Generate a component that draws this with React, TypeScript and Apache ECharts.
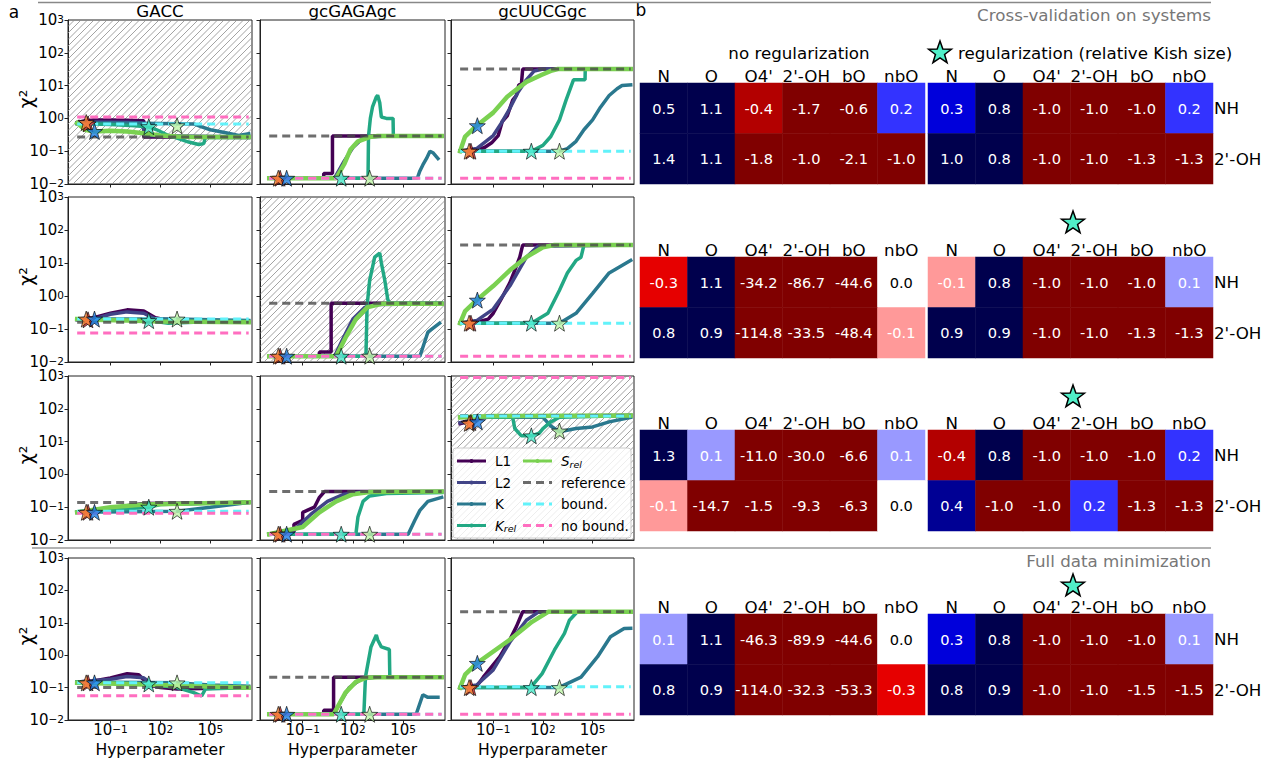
import React, { useEffect, useRef } from 'react';
import * as echarts from 'echarts';

const FONT = 'DejaVu Sans';

// ---------------- heatmap data (panel b) ----------------
const ATOM_COLS = ['N', 'O', "O4'", "2'-OH", 'bO', 'nbO'];
const DONOR_ROWS = ['NH', "2'-OH"];

const CV1_NOREG = [[0.5, 1.1, -0.4, -1.7, -0.6, 0.2], [1.4, 1.1, -1.8, -1.0, -2.1, -1.0]];
const CV1_REG = [[0.3, 0.8, -1.0, -1.0, -1.0, 0.2], [1.0, 0.8, -1.0, -1.0, -1.3, -1.3]];
const CV2_NOREG = [[-0.3, 1.1, -34.2, -86.7, -44.6, 0.0], [0.8, 0.9, -114.8, -33.5, -48.4, -0.1]];
const CV2_REG = [[-0.1, 0.8, -1.0, -1.0, -1.0, 0.1], [0.9, 0.9, -1.0, -1.0, -1.3, -1.3]];
const CV3_NOREG = [[1.3, 0.1, -11.0, -30.0, -6.6, 0.1], [-0.1, -14.7, -1.5, -9.3, -6.3, 0.0]];
const CV3_REG = [[-0.4, 0.8, -1.0, -1.0, -1.0, 0.2], [0.4, -1.0, -1.0, 0.2, -1.3, -1.3]];
const FULL_NOREG = [[0.1, 1.1, -46.3, -89.9, -44.6, 0.0], [0.8, 0.9, -114.0, -32.3, -53.3, -0.3]];
const FULL_REG = [[0.3, 0.8, -1.0, -1.0, -1.0, 0.1], [0.8, 0.9, -1.0, -1.0, -1.5, -1.5]];

// ---------------- line panels (panel a) ----------------
const SYSTEMS = ['GACC', 'gcGAGAgc', 'gcUUCGgc'];
const METHOD_NAMES = ['L1', 'L2', 'K', 'Krel', 'Srel'];
const METHOD_COLORS = ['#440154', '#414487', '#2a788e', '#22a884', '#7ad151'];
const X_TICKS = [-1, 2, 5];
const X_DOMAIN = [1e-3, 2e7];
// stars: red, orange, blue, turquoise, light green
const STAR_HYPER = [4.5e-3, 3.5e-3, 0.011, 20, 1000];
const STAR_COLORS = ['#e3262b', '#fb8a3c', '#1f7fe6', '#48e8c8', '#bff5a8'];

// row 1: cross-validation GACC
const R1C1_L1 = [[1e-3, 0.75], [3e-3, 0.85], [0.01, 0.9], [0.1, 0.9], [1, 0.88], [10, 0.85], [10, 0.27], [100, 0.27], [2e7, 0.26]];
const R1C1_L2 = [[1e-3, 0.7], [0.01, 0.78], [1, 0.76], [8, 0.72], [12, 0.3], [2e7, 0.27]];
const R1C1_K = [[1e-3, 0.7], [0.1, 0.72], [100, 0.7], [1e4, 0.68], [3e4, 0.55], [1e5, 0.45], [1e6, 0.36], [5e6, 0.3], [2e7, 0.34]];
const R1C1_KREL = [[1e-3, 0.7], [0.1, 0.65], [3, 0.6], [20, 0.55], [60, 0.45], [300, 0.3], [1e3, 0.25], [5e3, 0.19], [2e4, 0.16], [4e4, 0.17], [5e4, 0.26], [2e7, 0.26]];
const R1C1_SREL = [[1e-3, 0.72], [3e-3, 0.45], [0.01, 0.4], [0.1, 0.42], [1, 0.4], [10, 0.35], [100, 0.3], [1e3, 0.28], [1e4, 0.27], [2e7, 0.27]];
const R1C1_LEVELS = [0.27, 0.68, 1.1];
const R1C1_STARS = [0.68, 0.75, 0.4, 0.56, 0.6];

const R1C2_L1 = [[1e-3, 0.015], [1.8, 0.015], [1.8, 0.021], [6, 0.021], [6, 0.29], [2e7, 0.29]];
const R1C2_L2 = [[1e-3, 0.015], [8, 0.015], [30, 0.05], [100, 0.13], [300, 0.22], [1e3, 0.27], [1e4, 0.29], [2e7, 0.29]];
const R1C2_K = [[1e-3, 0.015], [7e5, 0.015], [1e6, 0.025], [1.5e6, 0.038], [2.5e6, 0.06], [4e6, 0.1], [6e6, 0.09], [1.2e7, 0.06]];
const R1C2_KREL = [[1e-3, 0.015], [800, 0.015], [850, 0.28], [1.1e3, 1.0], [1.5e3, 2.3], [2.5e3, 4.5], [3e3, 5.1], [4e3, 3.0], [5e3, 1.1], [1e4, 1.0], [2.5e4, 1.0], [2.6e4, 0.29], [2e7, 0.29]];
const R1C2_SREL = [[1e-3, 0.015], [10, 0.015], [30, 0.04], [70, 0.11], [200, 0.2], [1e3, 0.27], [3e3, 0.29], [2e7, 0.29]];
const R1C2_LEVELS = [0.29, 0.015, 0.015];
const R1C2_STARS = [0.015, 0.015, 0.015, 0.015, 0.015];

const R1C3_L1 = [[1e-3, 0.1], [0.01, 0.11], [0.03, 0.13], [0.08, 0.18], [0.2, 0.3], [0.35, 0.8], [0.7, 1.2], [1.5, 3.6], [2.5, 5], [3.5, 10.5], [5, 11], [6, 32], [2e7, 32]];
const R1C3_L2 = [[1e-3, 0.1], [0.01, 0.12], [0.1, 0.3], [0.3, 0.7], [1, 2], [3, 6], [10, 15], [30, 28], [100, 32], [2e7, 32]];
const R1C3_K = [[1e-3, 0.1], [1e3, 0.1], [3e3, 0.12], [1e4, 0.2], [3e4, 0.45], [1e5, 0.9], [3e5, 2.2], [1e6, 5], [3e6, 8], [6e6, 10], [2e7, 10.5]];
const R1C3_KREL = [[1e-3, 0.1], [20, 0.1], [100, 0.15], [300, 0.28], [1e3, 0.9], [2.5e3, 3.6], [7e3, 15], [3.5e4, 15], [3.6e4, 32], [2e7, 32]];
const R1C3_SREL = [[1e-3, 0.1], [2e-3, 0.28], [0.01, 0.6], [0.1, 1.5], [0.7, 4.6], [10, 13], [80, 21], [300, 28], [800, 32], [2e7, 32]];
const R1C3_LEVELS = [32, 0.1, 0.015];
const R1C3_STARS = [0.1, 0.1, 0.6, 0.1, 0.1];

// row 2: cross-validation gcGAGAgc
const R2C1_L1 = [[1e-3, 0.2], [0.01, 0.22], [0.1, 0.3], [1, 0.38], [10, 0.35], [50, 0.22], [300, 0.18], [2e7, 0.17]];
const R2C1_L2 = [[1e-3, 0.19], [0.01, 0.2], [0.1, 0.28], [1, 0.33], [10, 0.3], [50, 0.2], [2e7, 0.17]];
const R2C1_K = [[1e-3, 0.2], [1e3, 0.2], [1e5, 0.19], [2e7, 0.18]];
const R2C1_KREL = [[1e-3, 0.2], [20, 0.18], [300, 0.15], [1e4, 0.16], [2e7, 0.17]];
const R2C1_SREL = [[1e-3, 0.2], [0.01, 0.19], [1, 0.18], [100, 0.17], [2e7, 0.16]];
const R2C1_LEVELS = [0.16, 0.2, 0.075];
const R2C1_STARS = [0.19, 0.2, 0.2, 0.18, 0.2];

const R2C2_L1 = [[1e-3, 0.015], [1, 0.015], [1, 0.02], [5, 0.02], [5, 0.6], [2e7, 0.6]];
const R2C2_L2 = [[1e-3, 0.015], [8, 0.015], [30, 0.06], [100, 0.2], [500, 0.45], [3e3, 0.55], [2e7, 0.58]];
const R2C2_K = [[1e-3, 0.015], [1e6, 0.015], [3e6, 0.08], [1.5e7, 0.15]];
const R2C2_KREL = [[1e-3, 0.015], [600, 0.015], [700, 0.5], [1e3, 3], [2e3, 15], [4e3, 20], [5e3, 10], [8e3, 3], [1.2e4, 0.8], [1.5e4, 0.6], [2e7, 0.6]];
const R2C2_SREL = [[1e-3, 0.015], [10, 0.015], [40, 0.06], [150, 0.2], [700, 0.45], [5e3, 0.58], [2e7, 0.58]];
const R2C2_LEVELS = [0.6, 0.015, 0.015];
const R2C2_STARS = [0.015, 0.015, 0.015, 0.015, 0.015];

const R2C3_L1 = [[1e-3, 0.15], [0.01, 0.16], [0.05, 0.2], [0.1, 0.3], [0.3, 0.8], [1, 2.5], [2, 6], [4, 15], [6, 35], [2e7, 35]];
const R2C3_L2 = [[1e-3, 0.15], [0.01, 0.18], [0.1, 0.4], [1, 2], [10, 15], [50, 32], [2e7, 35]];
const R2C3_K = [[1e-3, 0.15], [1e3, 0.15], [1e4, 0.3], [1e5, 1.2], [1e6, 5], [2e7, 12]];
const R2C3_KREL = [[1e-3, 0.15], [20, 0.15], [200, 0.3], [1e3, 1.5], [3e3, 5], [1e4, 12], [2e4, 15], [3e4, 35], [2e7, 35]];
const R2C3_SREL = [[1e-3, 0.15], [2e-3, 0.35], [0.01, 0.75], [0.1, 2], [1, 6], [10, 15], [100, 30], [500, 35], [2e7, 35]];
const R2C3_LEVELS = [35, 0.15, 0.015];
const R2C3_STARS = [0.15, 0.15, 0.75, 0.15, 0.15];

// row 3: cross-validation gcUUCGgc
const R3C1_L1 = [[1e-3, 0.07], [0.01, 0.075], [0.1, 0.09], [1, 0.11], [10, 0.13], [2e7, 0.14]];
const R3C1_L2 = [[1e-3, 0.07], [0.01, 0.072], [0.1, 0.085], [1, 0.1], [10, 0.12], [2e7, 0.14]];
const R3C1_K = [[1e-3, 0.07], [1e3, 0.075], [1e5, 0.1], [2e7, 0.14]];
const R3C1_KREL = [[1e-3, 0.07], [20, 0.1], [100, 0.12], [2e7, 0.14]];
const R3C1_SREL = [[1e-3, 0.07], [0.1, 0.1], [10, 0.12], [2e7, 0.14]];
const R3C1_LEVELS = [0.14, 0.075, 0.065];
const R3C1_STARS = [0.07, 0.07, 0.07, 0.1, 0.075];

const R3C2_L1 = [[1e-3, 0.015], [0.03, 0.015], [0.03, 0.03], [0.1, 0.04], [0.1, 0.07], [0.5, 0.1], [1, 0.2], [2, 0.3], [2e7, 0.3]];
const R3C2_L2 = [[1e-3, 0.015], [0.03, 0.02], [0.3, 0.06], [3, 0.15], [30, 0.25], [300, 0.29], [2e7, 0.3]];
const R3C2_K = [[1e-3, 0.015], [2e5, 0.015], [5e5, 0.04], [1e6, 0.08], [3e6, 0.15], [2e7, 0.2]];
const R3C2_KREL = [[1e-3, 0.015], [150, 0.015], [200, 0.05], [400, 0.15], [1e3, 0.22], [1e4, 0.26], [2e7, 0.28]];
const R3C2_SREL = [[1e-3, 0.015], [0.1, 0.025], [1, 0.07], [10, 0.15], [100, 0.25], [1e3, 0.29], [2e7, 0.3]];
const R3C2_LEVELS = [0.3, 0.015, 0.015];
const R3C2_STARS = [0.015, 0.015, 0.015, 0.015, 0.015];

const R3C3_L1 = [[1e-3, 35], [3e-3, 40], [0.01, 55], [0.1, 60], [2e7, 62]];
const R3C3_L2 = [[1e-3, 38], [0.01, 50], [0.1, 58], [2e7, 62]];
const R3C3_K = [[1e-3, 55], [100, 55], [300, 30], [1e3, 20], [1e4, 25], [1e5, 28], [1e6, 40], [2e7, 55]];
const R3C3_KREL = [[1e-3, 55], [1.5, 55], [2, 25], [5, 15], [20, 15], [60, 18], [100, 25], [300, 40], [1e3, 55], [2e7, 62]];
const R3C3_SREL = [[1e-3, 55], [0.1, 60], [2e7, 62]];
const R3C3_LEVELS = [62, 60, 900];
const R3C3_STARS = [38, 36, 40, 15, 21];

// row 4: full data minimization
const R4C1_L1 = [[1e-3, 0.15], [0.01, 0.16], [0.1, 0.2], [1, 0.27], [5, 0.25], [20, 0.12], [100, 0.1], [1e3, 0.09], [2e7, 0.1]];
const R4C1_L2 = [[1e-3, 0.15], [0.1, 0.18], [1, 0.22], [10, 0.2], [50, 0.11], [2e7, 0.1]];
const R4C1_K = [[1e-3, 0.15], [1e3, 0.14], [1e4, 0.13], [1e5, 0.12], [2e7, 0.11]];
const R4C1_KREL = [[1e-3, 0.15], [20, 0.13], [1e3, 0.1], [1e4, 0.07], [3e4, 0.055], [5e4, 0.09], [2e7, 0.1]];
const R4C1_SREL = [[1e-3, 0.14], [1, 0.13], [100, 0.12], [2e7, 0.1]];
const R4C1_LEVELS = [0.1, 0.14, 0.056];
const R4C1_STARS = [0.14, 0.14, 0.14, 0.13, 0.14];

const R4C2_L1 = [[1e-3, 0.015], [1.8, 0.015], [1.8, 0.02], [7, 0.02], [7, 0.21], [2e7, 0.21]];
const R4C2_L2 = [[1e-3, 0.015], [7, 0.015], [20, 0.04], [60, 0.1], [300, 0.18], [2e3, 0.21], [2e7, 0.21]];
const R4C2_K = [[1e-3, 0.015], [6e5, 0.015], [1.5e6, 0.06], [3e6, 0.05], [1.2e7, 0.05]];
const R4C2_KREL = [[1e-3, 0.015], [450, 0.015], [560, 0.21], [1.2e3, 1.8], [2.5e3, 4.2], [3e3, 3], [5e3, 1.8], [1.5e4, 1.5], [1.6e4, 0.21], [2e7, 0.21]];
const R4C2_SREL = [[1e-3, 0.015], [7, 0.015], [36, 0.07], [150, 0.15], [560, 0.2], [3e3, 0.21], [2e7, 0.21]];
const R4C2_LEVELS = [0.21, 0.015, 0.015];
const R4C2_STARS = [0.015, 0.015, 0.015, 0.015, 0.015];

const R4C3_L1 = [[1e-3, 0.1], [0.01, 0.11], [0.025, 0.21], [0.25, 0.9], [1, 3], [2.5, 7.6], [6, 22], [2e7, 22]];
const R4C3_L2 = [[1e-3, 0.1], [0.01, 0.12], [0.1, 0.35], [1, 2.5], [10, 12], [50, 21], [2e7, 22]];
const R4C3_K = [[1e-3, 0.1], [900, 0.1], [2e4, 0.21], [2e5, 0.9], [1.2e6, 3.7], [8e6, 6.7], [2e7, 6.8]];
const R4C3_KREL = [[1e-3, 0.1], [18, 0.1], [90, 0.27], [500, 1.45], [2e3, 4.7], [4e3, 12], [1.2e4, 22], [2e7, 22]];
const R4C3_SREL = [[1e-3, 0.1], [2e-3, 0.25], [0.01, 0.56], [1, 3], [22, 10.7], [220, 22], [2e7, 22]];
const R4C3_LEVELS = [22, 0.107, 0.015];
const R4C3_STARS = [0.1, 0.1, 0.56, 0.1, 0.1];

// ---------------- layout ----------------
const W = 1272, H = 761;
const GX = [68, 260, 451];
const GW = [184, 185, 183];
const GY = [20, 197, 376, 558];
const GH = [164, 165, 164, 162];
const X_MIN_EXP = -3.55, X_MAX_EXP = 7.5;
const HX = [640, 928];
const HW = 285;
const HY = [83, 257, 430, 614];
const HH = 101;
const HATCHED = [[0, 0], [1, 1], [2, 2]];
const FS = 16.7;

const PANELS = [
  [
    { curves: [R1C1_L1, R1C1_L2, R1C1_K, R1C1_KREL, R1C1_SREL], levels: R1C1_LEVELS, stars: R1C1_STARS },
    { curves: [R1C2_L1, R1C2_L2, R1C2_K, R1C2_KREL, R1C2_SREL], levels: R1C2_LEVELS, stars: R1C2_STARS },
    { curves: [R1C3_L1, R1C3_L2, R1C3_K, R1C3_KREL, R1C3_SREL], levels: R1C3_LEVELS, stars: R1C3_STARS },
  ],
  [
    { curves: [R2C1_L1, R2C1_L2, R2C1_K, R2C1_KREL, R2C1_SREL], levels: R2C1_LEVELS, stars: R2C1_STARS },
    { curves: [R2C2_L1, R2C2_L2, R2C2_K, R2C2_KREL, R2C2_SREL], levels: R2C2_LEVELS, stars: R2C2_STARS },
    { curves: [R2C3_L1, R2C3_L2, R2C3_K, R2C3_KREL, R2C3_SREL], levels: R2C3_LEVELS, stars: R2C3_STARS },
  ],
  [
    { curves: [R3C1_L1, R3C1_L2, R3C1_K, R3C1_KREL, R3C1_SREL], levels: R3C1_LEVELS, stars: R3C1_STARS },
    { curves: [R3C2_L1, R3C2_L2, R3C2_K, R3C2_KREL, R3C2_SREL], levels: R3C2_LEVELS, stars: R3C2_STARS },
    { curves: [R3C3_L1, R3C3_L2, R3C3_K, R3C3_KREL, R3C3_SREL], levels: R3C3_LEVELS, stars: R3C3_STARS },
  ],
  [
    { curves: [R4C1_L1, R4C1_L2, R4C1_K, R4C1_KREL, R4C1_SREL], levels: R4C1_LEVELS, stars: R4C1_STARS },
    { curves: [R4C2_L1, R4C2_L2, R4C2_K, R4C2_KREL, R4C2_SREL], levels: R4C2_LEVELS, stars: R4C2_STARS },
    { curves: [R4C3_L1, R4C3_L2, R4C3_K, R4C3_KREL, R4C3_SREL], levels: R4C3_LEVELS, stars: R4C3_STARS },
  ],
];

const HEATMAPS = [
  [CV1_NOREG, CV1_REG],
  [CV2_NOREG, CV2_REG],
  [CV3_NOREG, CV3_REG],
  [FULL_NOREG, FULL_REG],
];

const LEVEL_STYLES = [
  { name: 'reference', color: '#4a4a4a', opacity: 0.8 },
  { name: 'bound.', color: '#62f2fa', opacity: 1 },
  { name: 'no bound.', color: '#ff6ec0', opacity: 1 },
];

function starPoints(cx: number, cy: number, R: number) {
  const pts: number[][] = [];
  for (let i = 0; i < 10; i++) {
    const r = i % 2 === 0 ? R : R * 0.4;
    const a = -Math.PI / 2 + (i * Math.PI) / 5;
    pts.push([cx + r * Math.cos(a), cy + r * Math.sin(a)]);
  }
  return pts;
}
const STAR_SYMBOL =
  'path://M' +
  starPoints(0, 0, 10)
    .map((p) => p[0].toFixed(3) + ',' + p[1].toFixed(3))
    .join('L') +
  'Z';

const RICH = {
  b: { fontSize: 15, fontFamily: FONT, color: '#000', lineHeight: 13 },
  s: { fontSize: 10.5, fontFamily: FONT, color: '#000', lineHeight: 1, verticalAlign: 'top' },
};
const expLabel = (v: number) => {
  const n = Math.round(v);
  return `{b|10}{s|${n < 0 ? '\u2212' + Math.abs(n) : n}}`;
};
const lg = (p: number[]) => [Math.log10(p[0]), Math.log10(p[1])];

function hatch(x0: number, y0: number, w: number, h: number, step: number, color: string) {
  const els: any[] = [];
  for (let c = x0 - h; c < x0 + w; c += step) {
    const t0 = Math.max(0, x0 - c);
    const t1 = Math.min(h, x0 + w - c);
    if (t1 <= t0) continue;
    els.push({
      type: 'line',
      silent: true,
      z: 1,
      shape: { x1: c + t0, y1: y0 + h - t0, x2: c + t1, y2: y0 + h - t1 },
      style: { stroke: color, lineWidth: 0.8 },
    });
  }
  return els;
}

function buildOption() {
  const grid: any[] = [];
  const xAxis: any[] = [];
  const yAxis: any[] = [];
  const series: any[] = [];
  const graphic: any[] = [];
  const heatIdx: number[] = [];

  PANELS.forEach((row, r) =>
    row.forEach((p, c) => {
      const gi = grid.length;
      grid.push({
        left: GX[c], top: GY[r], width: GW[c], height: GH[r],
        show: true, borderColor: '#222', borderWidth: 1, backgroundColor: 'transparent',
      });
      xAxis.push({
        type: 'value', gridIndex: gi, min: X_MIN_EXP, max: X_MAX_EXP,
        splitLine: { show: false },
        axisLine: { show: true, onZero: false, lineStyle: { color: '#222', width: 1 } },
        axisTick: { show: true, customValues: X_TICKS, length: 3.5, lineStyle: { color: '#222' } },
        axisLabel: { show: r === 3, customValues: X_TICKS, formatter: expLabel, rich: RICH, margin: 3 },
      });
      yAxis.push({
        type: 'value', gridIndex: gi, min: -2, max: 3, interval: 1,
        splitLine: { show: false },
        axisLine: { show: true, onZero: false, lineStyle: { color: '#222', width: 1 } },
        axisTick: { show: true, length: 3.5, lineStyle: { color: '#222' } },
        axisLabel: { show: c === 0, formatter: expLabel, rich: RICH, margin: 4 },
      });
      p.curves.forEach((pts, m) => {
        series.push({
          type: 'line', name: METHOD_NAMES[m], xAxisIndex: gi, yAxisIndex: gi,
          data: pts.map(lg), showSymbol: false, symbol: 'none', silent: true,
          lineStyle: { color: METHOD_COLORS[m], width: m === 4 ? 4.5 : 3.5, cap: 'square' },
          z: 2 + m * 0.01,
        });
      });
      p.levels.forEach((v, k) => {
        series.push({
          type: 'line', name: LEVEL_STYLES[k].name, xAxisIndex: gi, yAxisIndex: gi,
          data: X_DOMAIN.map((x) => lg([x, v])), showSymbol: false, symbol: 'none', silent: true,
          lineStyle: { color: LEVEL_STYLES[k].color, opacity: LEVEL_STYLES[k].opacity, width: 3, type: [8, 5] },
          z: 3,
        });
      });
      series.push({
        type: 'scatter', xAxisIndex: gi, yAxisIndex: gi, symbol: STAR_SYMBOL, symbolSize: 16, silent: true, z: 5,
        data: p.stars.map((v, k) => ({
          value: lg([STAR_HYPER[k], v]),
          itemStyle: { color: STAR_COLORS[k], borderColor: '#000', borderWidth: 0.8 },
        })),
      });
    })
  );

  HEATMAPS.forEach((pair, r) =>
    pair.forEach((mat, k) => {
      const gi = grid.length;
      grid.push({ left: HX[k], top: HY[r], width: HW, height: HH });
      xAxis.push({
        type: 'category', gridIndex: gi, data: ATOM_COLS, position: 'top',
        axisLine: { show: false }, axisTick: { show: false }, splitLine: { show: false },
        axisLabel: { interval: 0, fontSize: FS, color: '#000', fontFamily: FONT, margin: 1, lineHeight: 13 },
      });
      yAxis.push({
        type: 'category', gridIndex: gi, data: DONOR_ROWS, inverse: true, position: 'right',
        axisLine: { show: false }, axisTick: { show: false }, splitLine: { show: false },
        axisLabel: { show: k === 1, fontSize: FS, color: '#000', fontFamily: FONT, margin: 1 },
      });
      const data: any[] = [];
      mat.forEach((vals, yi) =>
        vals.forEach((v, xi) =>
          data.push({
            value: [xi, yi, Math.max(-0.5, Math.min(0.5, v)), v],
            label: { color: Math.abs(v) < 0.05 ? '#000' : '#fff' },
          })
        )
      );
      heatIdx.push(series.length);
      series.push({
        type: 'heatmap', xAxisIndex: gi, yAxisIndex: gi, data, silent: true,
        label: { show: true, fontSize: 14.6, fontFamily: FONT, formatter: (q: any) => q.data.value[3].toFixed(1) },
        itemStyle: { borderWidth: 0 },
      });
    })
  );

  // hatching
  HATCHED.forEach(([r, c]) => {
    graphic.push(...hatch(GX[c], GY[r], GW[c], GH[r], 6.5, '#8c8c8c'));
  });

  // legend in row 3 col 3
  const LX = 453, LY = 448, LW = 178, LH = 90;
  graphic.push({
    type: 'rect', z: 20, silent: true,
    shape: { x: LX, y: LY, width: LW, height: LH, r: 3 },
    style: { fill: 'rgba(255,255,255,0.8)', stroke: '#cccccc', lineWidth: 1 },
  });
  const legendItems = [
    { col: 0, row: 0, color: METHOD_COLORS[0], dash: false, text: '{n|L1}' },
    { col: 0, row: 1, color: METHOD_COLORS[1], dash: false, text: '{n|L2}' },
    { col: 0, row: 2, color: METHOD_COLORS[2], dash: false, text: '{n|K}' },
    { col: 0, row: 3, color: METHOD_COLORS[3], dash: false, text: '{i|K}{sub|rel}' },
    { col: 1, row: 0, color: METHOD_COLORS[4], dash: false, text: '{i|S}{sub|rel}' },
    { col: 1, row: 1, color: '#6a6a6a', dash: true, text: '{n|reference}' },
    { col: 1, row: 2, color: '#62f2fa', dash: true, text: '{n|bound.}' },
    { col: 1, row: 3, color: '#ff6ec0', dash: true, text: '{n|no bound.}' },
  ];
  const LROWS = [461, 482.5, 504, 525.5];
  const LLINE = [[457, 486], [523, 552]];
  const LTEXT = [495, 561];
  legendItems.forEach((it) => {
    const y = LROWS[it.row];
    const [x1, x2] = LLINE[it.col];
    graphic.push({
      type: 'line', z: 21, silent: true,
      shape: { x1, y1: y, x2, y2: y },
      style: { stroke: it.color, lineWidth: 3, lineDash: it.dash ? [8, 5] : null },
    });
    if (!it.dash) {
      graphic.push({ type: 'circle', z: 22, silent: true, shape: { cx: (x1 + x2) / 2, cy: y, r: 2 }, style: { fill: it.color } });
    }
    graphic.push({
      type: 'text', z: 22, silent: true, x: LTEXT[it.col], y,
      style: {
        text: it.text, verticalAlign: 'middle', align: 'left',
        rich: {
          n: { fontSize: 13.5, fontFamily: FONT, fill: '#000' },
          i: { fontSize: 13.5, fontFamily: FONT, fontStyle: 'italic', fill: '#000' },
          sub: { fontSize: 9.5, fontFamily: FONT, fontStyle: 'italic', fill: '#000', verticalAlign: 'bottom', padding: [6, 0, 0, 0] },
        },
      },
    });
  });

  // texts
  const T = (text: string, x: number, y: number, extra: any = {}) => ({
    type: 'text', silent: true, x, y, z: 30,
    style: { text, fontFamily: FONT, fontSize: FS, fill: '#000', align: 'center', verticalAlign: 'middle', ...extra },
  });
  graphic.push(T('a', 14, 12, { fontSize: 17 }));
  graphic.push(T('b', 641, 10, { fontSize: 17 }));
  SYSTEMS.forEach((s, c) => graphic.push(T(s, GX[c] + GW[c] / 2, 11)));
  GY.forEach((y, r) =>
    graphic.push({
      type: 'text', silent: true, x: 26, y: y + GH[r] / 2 - 3, rotation: Math.PI / 2, z: 30,
      style: { text: 'χ²', fontFamily: FONT, fontSize: 19, fill: '#000', align: 'center', verticalAlign: 'middle' },
    })
  );
  GX.forEach((x, c) => graphic.push(T('Hyperparameter', x + GW[c] / 2, 749.5, { fontSize: 15.6 })));
  graphic.push({ type: 'line', silent: true, z: 30, shape: { x1: 38, y1: 2.5, x2: 1211, y2: 2.5 }, style: { stroke: '#888', lineWidth: 1.5 } });
  graphic.push({ type: 'line', silent: true, z: 30, shape: { x1: 32, y1: 548, x2: 1211, y2: 548 }, style: { stroke: '#999', lineWidth: 1.5 } });
  graphic.push(T('Cross-validation on systems', 1211, 15, { align: 'right', fill: '#777' }));
  graphic.push(T('Full data minimization', 1211, 561, { align: 'right', fill: '#777' }));
  graphic.push(T('no regularization', 799, 53));
  graphic.push(T('regularization (relative Kish size)', 958, 53, { align: 'left' }));
  const bigStars = [[940, 53], [1073, 223], [1073, 397], [1073, 586]];
  bigStars.forEach(([cx, cy]) =>
    graphic.push({
      type: 'polygon', silent: true, z: 30,
      shape: { points: starPoints(cx, cy, 12) },
      style: { fill: '#50efc8', stroke: '#000', lineWidth: 1.5 },
    })
  );

  return {
    animation: false,
    backgroundColor: '#fff',
    textStyle: { fontFamily: FONT },
    grid, xAxis, yAxis, series, graphic,
    visualMap: {
      type: 'continuous', show: false, min: -0.5, max: 0.5, dimension: 2, seriesIndex: heatIdx,
      inRange: { color: ['#800000', '#ff0000', '#ffffff', '#0000ff', '#00004d'] },
    },
  };
}

export default function App() {
  const ref = useRef<HTMLDivElement>(null);
  useEffect(() => {
    if (!ref.current) return;
    const chart = echarts.init(ref.current, null, { renderer: 'svg' });
    chart.setOption(buildOption() as any);
    return () => chart.dispose();
  }, []);
  return (
    <div
      ref={ref}
      style={{ position: 'absolute', left: 0, top: 0, width: W, height: H, background: '#fff' }}
    />
  );
}
